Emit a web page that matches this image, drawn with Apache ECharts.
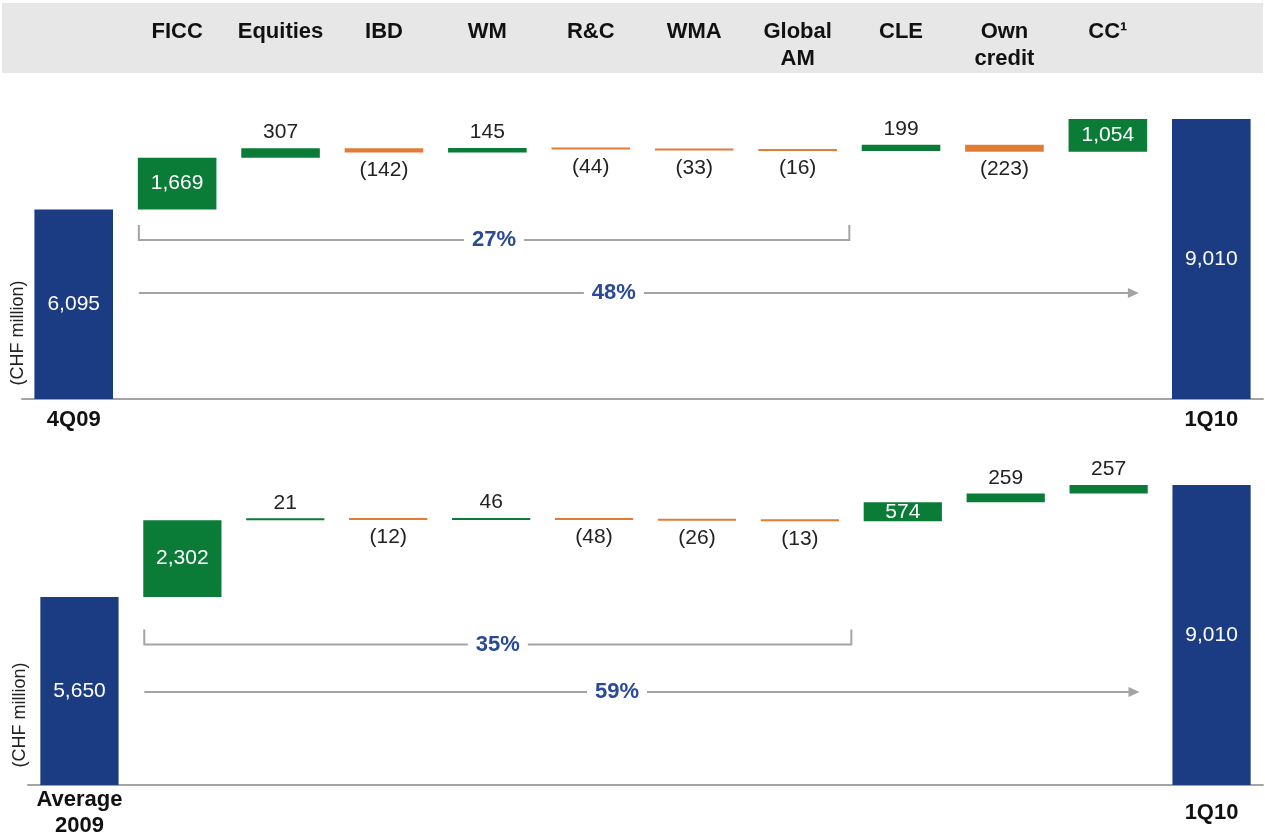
<!DOCTYPE html>
<html>
<head>
<meta charset="utf-8">
<script src="https://cdn.jsdelivr.net/npm/echarts@6/dist/echarts.min.js"></script>
<style>
  html, body { margin: 0; padding: 0; background: #fff; }
  #chart { width: 1265px; height: 839px; }
</style>
</head>
<body>
<div id="chart"></div>
<script>
// data
const categories = ['FICC', 'Equities', 'IBD', 'WM', 'R&C', 'WMA', 'Global\nAM', 'CLE', 'Own\ncredit', 'CC¹']

const topStartLabel = '4Q09'
const topEndLabel = '1Q10'
const topStart = 6095
const topEnd = 9010
const topDeltas = [1669, 307, -142, 145, -44, -33, -16, 199, -223, 1054]
const topPct = ['27%', '48%']

const botStartLabel = 'Average\n2009'
const botEndLabel = '1Q10'
const botStart = 5650
const botEnd = 9010
const botDeltas = [2302, 21, -12, 46, -48, -26, -13, 574, 259, 257]
const botPct = ['35%', '59%']

// colours / layout
const BLUE = '#1b3b83'
const GREEN = '#0a7c38'
const ORANGE = '#e27b36'
const PCT_BLUE = '#2a4a95'
const LINE_GREY = '#a4a4a4'
const FONT = 'Liberation Sans, Arial, sans-serif'

const fmt = v => {
  const s = Math.abs(v).toLocaleString('en-US')
  return v < 0 ? '(' + s + ')' : s
}

function buildPanel (start, end, deltas, gi) {
  const base = [0]
  const total = [{ value: start }]
  const up = ['-']
  const down = ['-']
  let cur = start
  deltas.forEach(d => {
    const big = Math.abs(d) >= 500
    const lbl = big
      ? { show: true, position: 'inside', color: '#fff' }
      : { show: true, position: d >= 0 ? 'top' : 'bottom', color: '#222', distance: d >= 0 ? 5 : 7 }
    if (d >= 0) {
      base.push(cur)
      up.push({ value: d, label: lbl })
      down.push('-')
      cur += d
    } else {
      cur += d
      base.push(cur)
      up.push('-')
      down.push({ value: -d, label: lbl })
    }
    total.push('-')
  })
  base.push(0)
  total.push({ value: end })
  up.push('-')
  down.push('-')

  const stack = 'w' + gi
  const common = {
    type: 'bar',
    stack: stack,
    xAxisIndex: gi === 0 ? 0 : 2,
    yAxisIndex: gi,
    barCategoryGap: '24%',
    emphasis: { disabled: true },
    label: { fontFamily: FONT, fontSize: 21 }
  }
  return [
    Object.assign({}, common, { name: 'base' + gi, data: base, itemStyle: { color: 'transparent' }, label: { show: false } }),
    Object.assign({}, common, {
      name: 'total' + gi, data: total, itemStyle: { color: BLUE },
      label: { show: true, position: 'inside', color: '#fff', fontFamily: FONT, fontSize: 21, formatter: p => fmt(p.value) }
    }),
    Object.assign({}, common, {
      name: 'up' + gi, data: up, itemStyle: { color: GREEN }, barMinHeight: 2,
      label: { fontFamily: FONT, fontSize: 21, formatter: p => fmt(p.value) }
    }),
    Object.assign({}, common, {
      name: 'down' + gi, data: down, itemStyle: { color: ORANGE }, barMinHeight: 2,
      label: { fontFamily: FONT, fontSize: 21, formatter: p => fmt(-p.value) }
    })
  ]
}

const topX = [topStartLabel].concat(categories, [topEndLabel])
const botX = [botStartLabel].concat(categories, [botEndLabel])
const last = topX.length - 1

const endLabels = {
  interval: 0,
  fontFamily: FONT,
  fontSize: 22,
  fontWeight: 'bold',
  color: '#111',
  lineHeight: 26,
  verticalAlign: 'middle',
  formatter: (v, i) => (i === 0 || i === last) ? v : ''
}

const chart = echarts.init(document.getElementById('chart'))

const option = {
  animation: false,
  grid: [
    { left: 22, right: 2, top: 119, height: 280 },
    { left: 28, right: 2, top: 485, height: 301 }
  ],
  xAxis: [
    {
      gridIndex: 0, type: 'category', data: topX,
      axisLine: { lineStyle: { color: LINE_GREY, width: 2 } },
      axisTick: { show: false },
      axisLabel: Object.assign({}, endLabels, { margin: 21 })
    },
    {
      gridIndex: 0, type: 'category', data: topX, position: 'top',
      axisLine: { show: false },
      axisTick: { show: false },
      axisLabel: {
        interval: 0,
        margin: 101,
        verticalAlign: 'top',
        lineHeight: 27,
        fontFamily: FONT,
        fontSize: 22,
        fontWeight: 'bold',
        color: '#111',
        formatter: (v, i) => (i === 0 || i === last) ? '' : v
      }
    },
    {
      gridIndex: 1, type: 'category', data: botX,
      axisLine: { lineStyle: { color: LINE_GREY, width: 2 } },
      axisTick: { show: false },
      axisLabel: Object.assign({}, endLabels, { margin: 28 })
    }
  ],
  yAxis: [
    { gridIndex: 0, type: 'value', min: 0, max: topEnd, show: false },
    { gridIndex: 1, type: 'value', min: 0, max: botEnd, show: false }
  ],
  series: buildPanel(topStart, topEnd, topDeltas, 0).concat(buildPanel(botStart, botEnd, botDeltas, 1))
}

chart.setOption(option)

// 括号和箭头标注
const annotLayout = [
  { xAxis: 0, yAxis: 0, tickY: 5600, bracketY: 5120, arrowY: 3410, pct: topPct, unitX: 18, unitY: 333 },
  { xAxis: 2, yAxis: 1, tickY: 4670, bracketY: 4220, arrowY: 2790, pct: botPct, unitX: 20, unitY: 715 }
]

function buildGraphics () {
  const els = [
    { type: 'rect', z: -10, shape: { x: 2, y: 3, width: 1261, height: 70 }, style: { fill: '#e7e7e7' } }
  ]
  annotLayout.forEach(a => {
    const px = i => chart.convertToPixel({ xAxisIndex: a.xAxis }, i)
    const py = v => chart.convertToPixel({ yAxisIndex: a.yAxis }, v)
    const step = px(2) - px(1)
    const x0 = px(1) - 0.37 * step
    const x1 = px(7) + 0.5 * step
    const xa = px(10) + 0.3 * step
    const yt = py(a.tickY)
    const yb = py(a.bracketY)
    const ya = py(a.arrowY)

    els.push({
      type: 'polyline', z: 5,
      shape: { points: [[x0, yt], [x0, yb], [x1, yb], [x1, yt]] },
      style: { stroke: LINE_GREY, lineWidth: 2, fill: null }
    })
    els.push({
      type: 'text', z: 6, x: (x0 + x1) / 2, y: yb,
      style: {
        text: a.pct[0], font: 'bold 22px ' + FONT, fill: PCT_BLUE,
        align: 'center', verticalAlign: 'middle', backgroundColor: '#fff', padding: [0, 8]
      }
    })
    els.push({
      type: 'line', z: 5,
      shape: { x1: x0, y1: ya, x2: xa - 6, y2: ya },
      style: { stroke: LINE_GREY, lineWidth: 2 }
    })
    els.push({
      type: 'polygon', z: 5,
      shape: { points: [[xa - 11, ya - 5], [xa, ya], [xa - 11, ya + 5]] },
      style: { fill: LINE_GREY }
    })
    els.push({
      type: 'text', z: 6, x: x0 + 0.475 * (xa - x0), y: ya,
      style: {
        text: a.pct[1], font: 'bold 22px ' + FONT, fill: PCT_BLUE,
        align: 'center', verticalAlign: 'middle', backgroundColor: '#fff', padding: [0, 8]
      }
    })
    els.push({
      type: 'text', z: 6, x: a.unitX, y: a.unitY, rotation: Math.PI / 2,
      style: {
        text: '(CHF million)', font: '18px ' + FONT, fill: '#222',
        align: 'center', verticalAlign: 'middle'
      }
    })
  })
  return els
}

chart.setOption({ graphic: buildGraphics() })

window.addEventListener('resize', () => {
  chart.resize()
  chart.setOption({ graphic: buildGraphics() })
})
</script>
</body>
</html>
